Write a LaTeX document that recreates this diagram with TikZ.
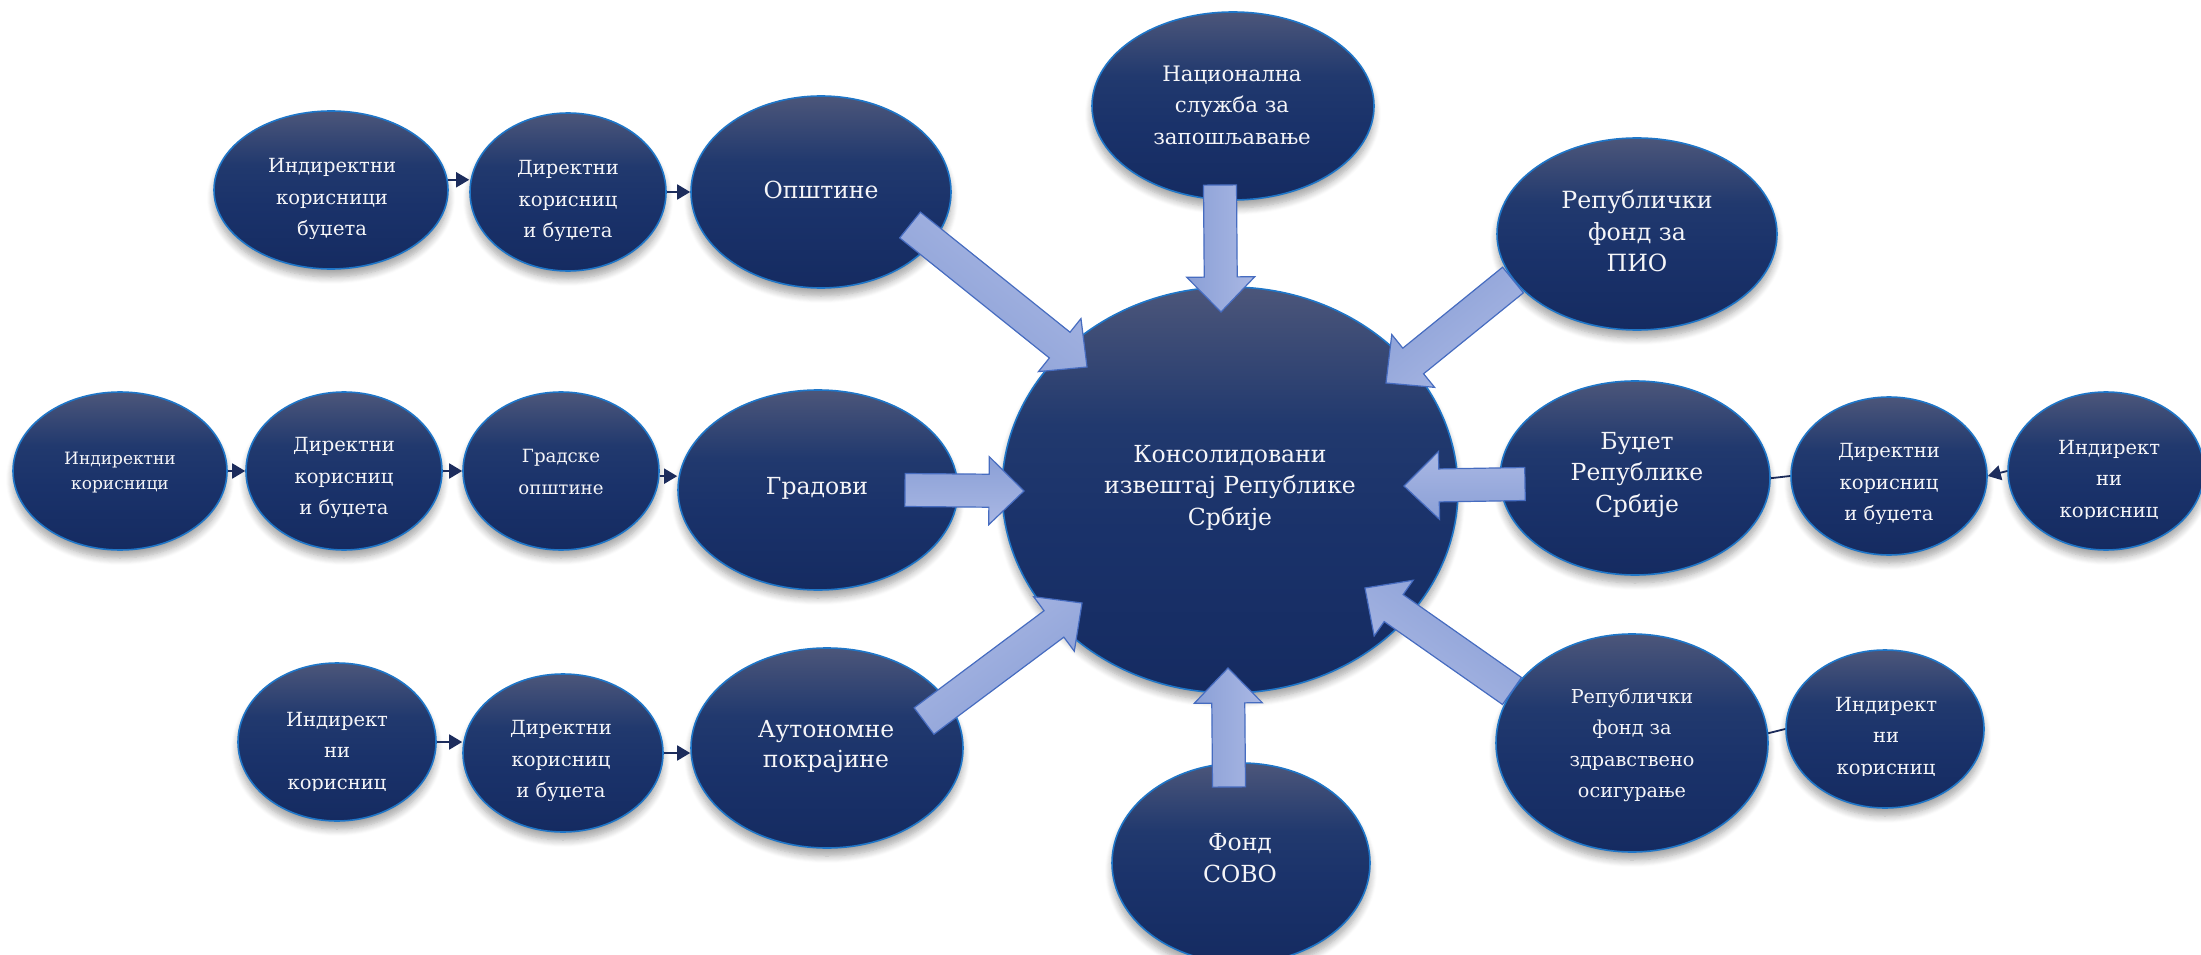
\documentclass[tikz,border=0pt]{standalone}
\usepackage{fontspec}
\setmainfont{DejaVu Serif}
\usetikzlibrary{shapes.geometric,calc,shadows.blur,arrows.meta}
\pgfdeclarelayer{back}
\pgfsetlayers{back,main}
\definecolor{ellbot}{RGB}{21,43,97}
\definecolor{ellmid}{RGB}{26,50,106}
\definecolor{ellmidb}{RGB}{33,57,110}
\definecolor{elltop}{RGB}{76,86,122}
\definecolor{ellborder}{RGB}{31,118,200}
\definecolor{arrlight}{RGB}{170,184,228}
\definecolor{arrdark}{RGB}{138,159,214}
\definecolor{arrborder}{RGB}{70,108,192}
\definecolor{connc}{RGB}{28,44,92}
\definecolor{txtc}{RGB}{245,245,248}
\pgfdeclareverticalshading{ellshade}{100bp}{color(0bp)=(ellbot); color(25bp)=(ellbot); color(45bp)=(ellmid); color(58bp)=(ellmidb); color(75bp)=(elltop); color(100bp)=(elltop)}
\tikzset{
  ell/.style={ellipse, draw=ellborder, line width=1.6pt, shading=ellshade, inner sep=0pt,
    blur shadow={shadow xshift=0pt, shadow yshift=-8pt, shadow opacity=35, shadow blur radius=7pt, shadow blur steps=8}},
  txt/.style={text=txtc, align=center, inner sep=0pt, font=\fontsize{#1}{31.5}\selectfont},
  barr/.style={draw=arrborder, line width=1.2pt, left color=arrlight, right color=arrdark, line join=miter},
  conn/.style={draw=connc, line width=1.8pt, -{Triangle[length=13pt,width=15pt]}}
}
\newcommand\blockarr[3]{%
  \coordinate (#1h) at ($(#2)!35pt!(#1)$);
  \path[barr, shading angle=#3] ($(#1)!16.5pt!90:(#2)$) -- ($(#1h)!16.5pt!90:(#2)$) -- ($(#1h)!34pt!90:(#2)$) -- (#2) -- ($(#1h)!34pt!-90:(#2)$) -- ($(#1h)!16.5pt!-90:(#2)$) -- ($(#1)!16.5pt!-90:(#2)$) -- cycle;}
% clipped text: name, x, south y, clip y, size, text
\newcommand\cliptext[6]{%
  \begin{scope}
    \clip (#2-110,#3-130) rectangle (#2+110,#4);
    \node[txt=#5, anchor=south] (#1) at (#2,#3) {#6};
  \end{scope}}
\begin{document}
\begin{tikzpicture}[x=1pt,y=-1pt]
\useasboundingbox (0,0) rectangle (2201,955);
% ellipses
\node[ell, minimum width=234, minimum height=158] (tlInd) at (331,190) {};
\node[ell, minimum width=196, minimum height=158] (tlDir) at (568,192) {};
\node[ell, minimum width=260, minimum height=192] (opst) at (821,192) {};
\node[ell, minimum width=214, minimum height=158] (r2Ind) at (120,471) {};
\node[ell, minimum width=196, minimum height=158] (r2Dir) at (344,471) {};
\node[ell, minimum width=196, minimum height=158] (grOp) at (561,471) {};
\node[ell, minimum width=280, minimum height=200] (grad) at (818,490) {};
\node[ell, minimum width=198, minimum height=158] (r3Ind) at (337,742) {};
\node[ell, minimum width=200, minimum height=158] (r3Dir) at (563,753) {};
\node[ell, minimum width=272, minimum height=200] (auto) at (827,748) {};
\node[ell, minimum width=456, minimum height=406] (cen) at (1230,490) {};
\node[ell, minimum width=282, minimum height=188] (nac) at (1233,106) {};
\node[ell, minimum width=280, minimum height=192] (pio) at (1637,234) {};
\node[ell, minimum width=270, minimum height=194] (bud) at (1635,478) {};
\node[ell, minimum width=196, minimum height=158] (rDir) at (1889,476) {};
\node[ell, minimum width=196, minimum height=158] (rInd) at (2106,471) {};
\node[ell, minimum width=258, minimum height=200] (sovo) at (1241,863) {};
\node[ell, minimum width=272, minimum height=218] (rfzo) at (1632,743) {};
\node[ell, minimum width=198, minimum height=158] (rIndb) at (1885,729) {};
% small connectors
\draw[conn] (tlInd.5) -- (tlInd.5 -| tlDir.west);
\draw[conn] (tlDir.east) -- (tlDir.east -| opst.west);
\draw[conn] (r2Ind.east) -- (r2Ind.east -| r2Dir.west);
\draw[conn] (r2Dir.east) -- (r2Dir.east -| grOp.west);
\draw[conn] (grOp.-3) -- (grOp.-3 -| grad.west);
\draw[conn] (r3Ind.east) -- (r3Ind.east -| r3Dir.west);
\draw[conn] (r3Dir.east) -- (r3Dir.east -| auto.west);
\draw[conn] (rInd.west) -- (rDir.east);
\begin{pgfonlayer}{back}
\draw[conn] (rDir.west) -- ($(bud.east)+(-16,2)$);
\draw[conn] (rIndb.west) -- ($(rfzo.east)+(-16,-6)$);
\end{pgfonlayer}
% block arrows
\coordinate (opA) at (910,225);  \coordinate (opB) at (1087,367);
\coordinate (grA) at (905,490);  \coordinate (grB) at (1024,491);
\coordinate (auA) at (924,721);  \coordinate (auB) at (1082,603);
\coordinate (naA) at (1220,185); \coordinate (naB) at (1221,312);
\coordinate (piA) at (1513,280); \coordinate (piB) at (1386,383);
\coordinate (buA) at (1525,484); \coordinate (buB) at (1404,486);
\coordinate (rfA) at (1512,691); \coordinate (rfB) at (1365,588);
\coordinate (soA) at (1229,787); \coordinate (soB) at (1228,668);
\blockarr{opA}{opB}{-38.7}
\blockarr{grA}{grB}{180}
\blockarr{auA}{auB}{36.8}
\blockarr{naA}{naB}{-90}
\blockarr{piA}{piB}{-141}
\blockarr{buA}{buB}{0}
\blockarr{rfA}{rfB}{145}
\blockarr{soA}{soB}{-90}
% texts
\cliptext{tlIndt}{332}{240.5}{238}{19.5}{Индиректни\\корисници\\буџета}
\cliptext{tlDirt}{568}{242.5}{240}{19.5}{Директни\\корисниц\\и буџета}
\node[txt=23.5] (opstt) at (821,190) {Општине};
\node[txt=17, font=\fontsize{17}{25}\selectfont] (r2Indt) at (120,473) {Индиректни\\корисници};
\cliptext{r2Dirt}{344}{519.5}{517}{19.5}{Директни\\корисниц\\и буџета}
\node[txt=18.2] (grOpt) at (561,472) {Градске\\општине};
\node[txt=23.5] (gradt) at (817,488) {Градови};
\cliptext{r3Indt}{337}{793.5}{790}{19.5}{Индирект\\ни\\корисниц}
\cliptext{r3Dirt}{561}{802.5}{800}{19.5}{Директни\\корисниц\\и буџета}
\node[txt=23.5, font=\fontsize{23.5}{30}\selectfont] (autot) at (826,747) {Аутономне\\покрајине};
\node[txt=23.5] (cent) at (1230,488) {Консолидовани\\извештај Републике\\Србије};
\node[txt=21.3] (nact) at (1232,105) {Национална\\служба за\\запошљавање};
\node[txt=23.7] (piot) at (1637,231) {Републички\\фонд за\\ПИО};
\node[txt=23.5] (budt) at (1637,475) {Буџет\\Републике\\Србије};
\cliptext{rDirt}{1889}{525.5}{523}{19.5}{Директни\\корисниц\\и буџета}
\cliptext{rIndt}{2109}{521.5}{518}{19.5}{Индирект\\ни\\корисниц}
\node[txt=23.5] (sovot) at (1240,858) {Фонд\\СОВО};
\node[txt=19.2] (rfzot) at (1632,745) {Републички\\фонд за\\здравствено\\осигурање};
\cliptext{rIndbt}{1886}{778.5}{775.5}{19.5}{Индирект\\ни\\корисниц}
\end{tikzpicture}
\end{document}
